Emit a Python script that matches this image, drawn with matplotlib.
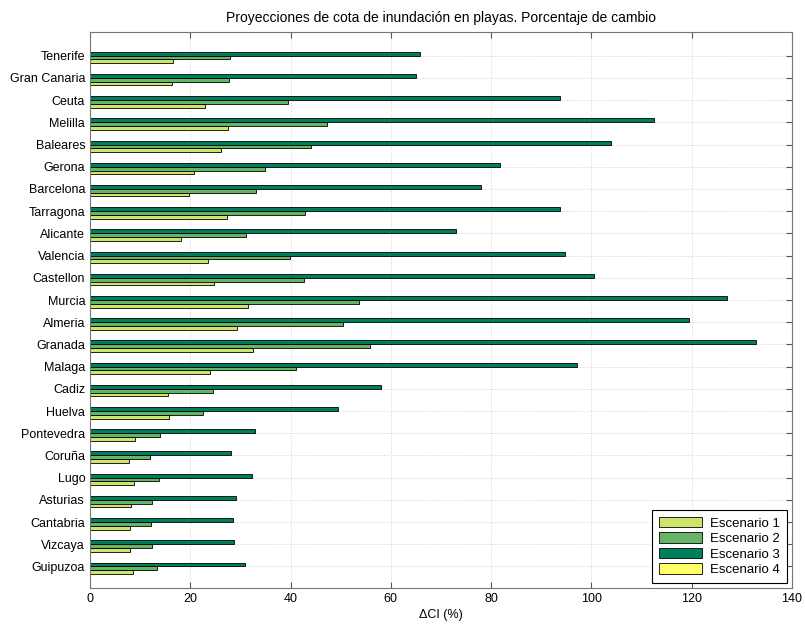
import matplotlib
matplotlib.use('Agg')
import matplotlib.pyplot as plt
import numpy as np

plt.rcParams['font.family'] = ['Liberation Sans', 'DejaVu Sans']

provincias = ['Tenerife', 'Gran Canaria', 'Ceuta', 'Melilla', 'Baleares', 'Gerona',
              'Barcelona', 'Tarragona', 'Alicante', 'Valencia', 'Castellon', 'Murcia',
              'Almeria', 'Granada', 'Malaga', 'Cadiz', 'Huelva', 'Pontevedra', 'Coruña',
              'Lugo', 'Asturias', 'Cantabria', 'Vizcaya', 'Guipuzoa']

esc1 = [16.6, 16.3, 23.0, 27.6, 26.2, 20.7, 19.7, 27.3, 18.1, 23.5, 24.7, 31.5,
        29.4, 32.6, 24.0, 15.5, 15.8, 9.0, 7.8, 8.8, 8.2, 8.0, 7.9, 8.6]
esc2 = [28.0, 27.7, 39.5, 47.3, 44.1, 34.9, 33.1, 42.9, 31.1, 39.9, 42.7, 53.6,
        50.5, 55.8, 41.0, 24.6, 22.6, 14.0, 12.0, 13.8, 12.4, 12.1, 12.3, 13.3]
esc3 = [65.8, 65.0, 93.7, 112.5, 103.9, 81.8, 78.0, 93.7, 73.0, 94.7, 100.5, 127.0,
        119.5, 132.8, 97.1, 58.0, 49.5, 32.9, 28.1, 32.3, 29.1, 28.5, 28.7, 31.0]
esc4 = [0.0] * len(provincias)

series = [esc1, esc2, esc3, esc4]
nombres = ['Escenario 1', 'Escenario 2', 'Escenario 3', 'Escenario 4']
colores = ['#cde66a', '#66b566', '#007f5f', '#ffff66']

fig = plt.figure(figsize=(8.05, 6.24), dpi=100)
ax = fig.add_axes([0.1118, 0.0577, 0.8721, 0.891])

n = len(provincias)
y = np.arange(1, n + 1)
h = 0.175
offsets = [0.25, 0.08, -0.09, -0.26]  # Esc4 slot on top stays empty
for vals, name, c, off in zip(series, nombres, colores, offsets):
    ax.barh(y + off, vals, height=h, color=c, edgecolor='black', linewidth=0.6, label=name)

ax.set_ylim(24.97, -0.07)
ax.set_xlim(0, 140)
ax.set_yticks(y)
ax.set_yticklabels(provincias, fontsize=9)
ax.set_xticks(np.arange(0, 141, 20))
ax.tick_params(axis='x', labelsize=9, direction='in', top=True, length=4, color='#555555')
ax.tick_params(axis='y', direction='in', right=True, length=4, color='#555555')
ax.grid(True, linestyle=':', color='#d0d0d0', linewidth=0.7)
ax.set_axisbelow(True)
for s in ax.spines.values():
    s.set_color('#777777')
ax.set_xlabel('ΔCI (%)', fontsize=9, labelpad=3)
ax.set_title('Proyecciones de cota de inundación en playas. Porcentaje de cambio', fontsize=10, pad=7)

leg = ax.legend(loc='lower right', fontsize=9.5, fancybox=False, framealpha=1,
                edgecolor='black', borderaxespad=0.4, handlelength=3.3, handleheight=0.85,
                labelspacing=0.2, borderpad=0.5, handletextpad=0.6)
leg.get_frame().set_linewidth(0.8)

fig.savefig('out.png', dpi=100)
